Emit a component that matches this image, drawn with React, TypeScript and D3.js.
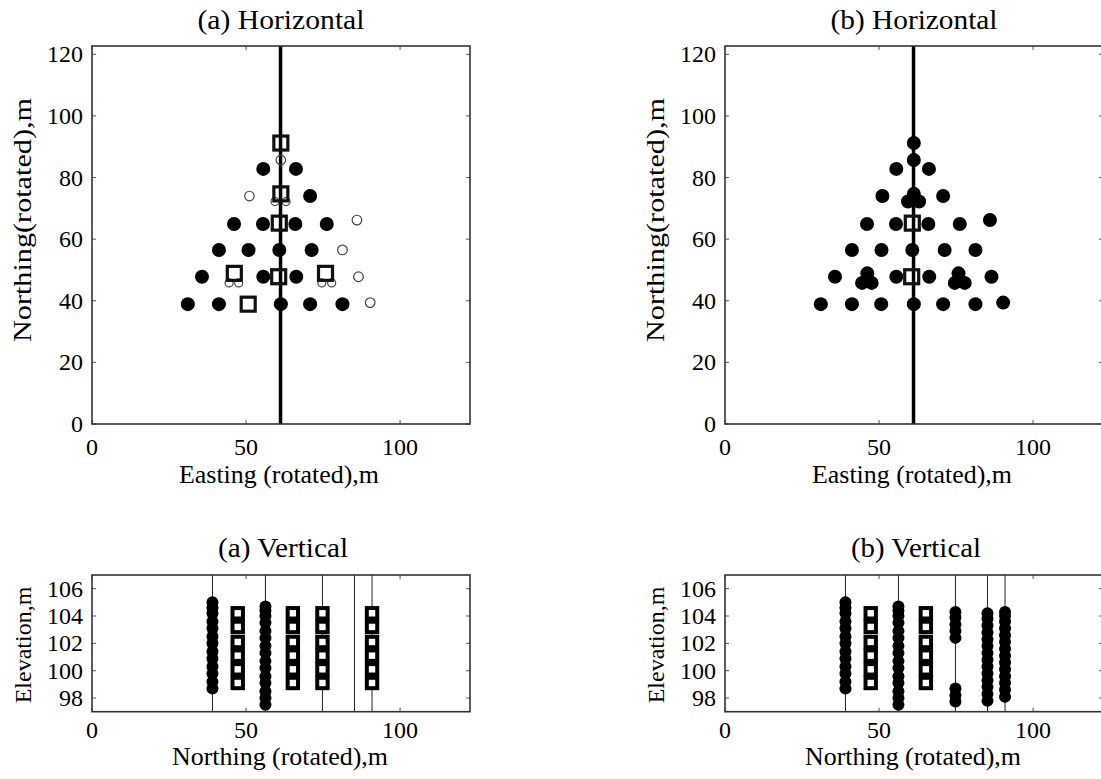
import React from 'react';
import * as d3 from 'd3';

// ---------- data ----------
const xTicks = [0, 50, 100];
const yTicksH = [0, 20, 40, 60, 80, 100, 120];
const yTicksV = [98, 100, 102, 104, 106];
const lineEasting = 61.2;

// (a) horizontal: filled circles [easting, northing]
const filledA: [number, number][] = [
  [55.6, 82.8], [66.2, 82.8], [70.8, 74.0],
  [46.1, 64.9], [55.5, 64.9], [66.0, 64.9], [76.2, 64.9],
  [41.2, 56.5], [50.8, 56.5], [60.8, 56.5], [71.3, 56.5],
  [35.7, 47.8], [55.6, 47.8], [66.3, 47.8],
  [31.1, 38.9], [41.2, 38.9], [61.3, 38.9], [70.8, 38.9], [81.3, 38.9],
];
// (a) horizontal: open circles
const openA: [number, number][] = [
  [61.3, 85.7], [51.1, 74.0], [59.4, 72.2], [63.0, 72.2],
  [86.0, 66.2], [81.3, 56.5], [86.5, 47.8], [90.3, 39.4],
  [44.5, 45.8], [47.6, 45.8], [74.6, 45.8], [77.8, 45.8],
];
const openSmall = [false, false, true, true, false, false, false, false, true, true, true, true];
// (a) horizontal: squares
const squaresA: [number, number][] = [
  [61.3, 91.2], [61.3, 74.7], [60.8, 65.2], [46.2, 48.9],
  [60.6, 47.8], [75.8, 48.9], [50.7, 38.9],
];
// (b) horizontal: squares kept, others became filled
const squaresB: [number, number][] = [[60.8, 65.2], [60.6, 47.8]];
const filledBExtra: [number, number][] = [
  [61.3, 91.2], [61.3, 74.7], [46.2, 48.9], [75.8, 48.9], [50.7, 38.9],
];

// vertical panels: profile lines (northing)
const vLines = [39.1, 56.3, 74.8, 85.2, 90.9];
// circle columns: northing + elevations
const circColsA = [
  { n: 39.1, z: [98.7, 99.2, 99.8, 100.3, 100.9, 101.4, 102.0, 102.5, 103.1, 103.6, 104.2, 104.6, 105.0] },
  { n: 56.3, z: [97.5, 98.0, 98.5, 99.1, 99.6, 100.2, 100.7, 101.3, 101.8, 102.4, 102.9, 103.5, 104.0, 104.4, 104.7] },
];
const circColsB = [
  { n: 39.1, z: [98.7, 99.2, 99.8, 100.3, 100.9, 101.4, 102.0, 102.5, 103.1, 103.6, 104.2, 104.6, 105.0] },
  { n: 56.3, z: [97.5, 98.0, 98.5, 99.1, 99.6, 100.2, 100.7, 101.3, 101.8, 102.4, 102.9, 103.5, 104.0, 104.4, 104.7] },
  { n: 74.8, z: [97.75, 98.2, 98.7, 102.4, 102.9, 103.4, 103.9, 104.3] },
  { n: 85.2, z: [97.8, 98.3, 98.8, 99.3, 99.8, 100.3, 100.8, 101.3, 101.8, 102.3, 102.8, 103.3, 103.8, 104.2] },
  { n: 90.9, z: [98.1, 98.6, 99.1, 99.6, 100.1, 100.6, 101.1, 101.6, 102.1, 102.6, 103.1, 103.6, 104.0, 104.3] },
];
const sqElev = [99.1, 100.1, 101.1, 102.1, 103.2, 104.2];
const sqColsA = [47.3, 65.2, 74.8, 90.9];
const sqColsB = [47.3, 65.2];

// ---------- layout ----------
const FONT = '"Liberation Serif", "Times New Roman", Times, serif';
const PANEL_X = [92, 725];
const W = 378;
const TOP = { y0: 46, y1: 424 };
const BOT = { y0: 575, y1: 711.7 };
const frameColor = '#333';

function Frame({ x, y, w, h, xs, ys, xt, yt }: any) {
  const tl = 4;
  return (
    <g>
      {xt.map((t: number) => (
        <g key={'x' + t}>
          <line x1={xs(t)} x2={xs(t)} y1={y + h} y2={y + h - tl} stroke="#555" strokeWidth={1} />
          <line x1={xs(t)} x2={xs(t)} y1={y} y2={y + tl} stroke="#555" strokeWidth={1} />
        </g>
      ))}
      {yt.map((t: number) => (
        <g key={'y' + t}>
          <line x1={x} x2={x + tl} y1={ys(t)} y2={ys(t)} stroke="#555" strokeWidth={1} />
          <line x1={x + w} x2={x + w - tl} y1={ys(t)} y2={ys(t)} stroke="#555" strokeWidth={1} />
        </g>
      ))}
      <rect x={x} y={y} width={w} height={h} fill="none" stroke={frameColor} strokeWidth={1.6} />
    </g>
  );
}

function HorizPanel({ px, title, filled, open, squares }: any) {
  const xs = d3.scaleLinear().domain([0, 122.7]).range([px, px + W]);
  const ys = d3.scaleLinear().domain([0, 122.7]).range([TOP.y1, TOP.y0]);
  const cx = px + W / 2;
  return (
    <g>
      <text x={cx} y={29} textAnchor="middle" fontSize={27} fontFamily={FONT} textLength={167} lengthAdjust="spacingAndGlyphs">{title}</text>
      <line x1={xs(lineEasting)} x2={xs(lineEasting)} y1={TOP.y0} y2={TOP.y1} stroke="#000" strokeWidth={3.5} />
      {open.map((d: [number, number], i: number) => (
        <circle key={'o' + i} cx={xs(d[0])} cy={ys(d[1])} r={openSmall[i] ? 4 : 4.8} fill="none" stroke="#444" strokeWidth={1.2} />
      ))}
      {filled.map((d: [number, number], i: number) => (
        <circle key={'f' + i} cx={xs(d[0])} cy={ys(d[1])} r={7} fill="#000" />
      ))}
      {squares.map((d: [number, number], i: number) => (
        <rect key={'s' + i} x={xs(d[0]) - 7} y={ys(d[1]) - 7} width={14} height={14} fill="none" stroke="#111" strokeWidth={3.2} />
      ))}
      <Frame x={px} y={TOP.y0} w={W} h={TOP.y1 - TOP.y0} xs={xs} ys={ys} xt={xTicks} yt={yTicksH} />
      {xTicks.map((t) => (
        <text key={'xl' + t} x={xs(t)} y={455} textAnchor="middle" fontSize={24} fontFamily={FONT}>{t}</text>
      ))}
      {yTicksH.map((t) => (
        <text key={'yl' + t} x={px - 9} y={ys(t) + 8} textAnchor="end" fontSize={24} fontFamily={FONT}>{t}</text>
      ))}
      <text x={cx - 2} y={483} textAnchor="middle" fontSize={25} fontFamily={FONT} textLength={200} lengthAdjust="spacingAndGlyphs">Easting (rotated),m</text>
      <text transform={`translate(${px - 61},${220}) rotate(-90)`} textAnchor="middle" fontSize={26} fontFamily={FONT} textLength={244} lengthAdjust="spacingAndGlyphs">Northing(rotated),m</text>
    </g>
  );
}

function VertPanel({ px, title, circCols, sqCols }: any) {
  const xs = d3.scaleLinear().domain([0, 122.7]).range([px, px + W]);
  const ys = d3.scaleLinear().domain([97, 107]).range([BOT.y1, BOT.y0]);
  const cx = px + W / 2;
  return (
    <g>
      <text x={cx + 2} y={557} textAnchor="middle" fontSize={27} fontFamily={FONT} textLength={130} lengthAdjust="spacingAndGlyphs">{title}</text>
      {vLines.map((n) => (
        <line key={'l' + n} x1={xs(n)} x2={xs(n)} y1={BOT.y0} y2={BOT.y1} stroke="#222" strokeWidth={1} />
      ))}
      {circCols.map((c: any) => c.z.map((z: number, i: number) => (
        <circle key={c.n + '-' + i} cx={xs(c.n)} cy={ys(z)} r={6} fill="#000" />
      )))}
      {sqCols.map((n: number) => sqElev.map((z, i) => (
        <rect key={n + 's' + i} x={xs(n) - 5.2} y={ys(z) - 5.2} width={10.4} height={10.4} fill="#fff" stroke="#000" strokeWidth={4} />
      )))}
      <Frame x={px} y={BOT.y0} w={W} h={BOT.y1 - BOT.y0} xs={xs} ys={ys} xt={xTicks} yt={yTicksV} />
      {xTicks.map((t) => (
        <text key={'xl' + t} x={xs(t)} y={738} textAnchor="middle" fontSize={24} fontFamily={FONT}>{t}</text>
      ))}
      {yTicksV.map((t) => (
        <text key={'yl' + t} x={px - 9} y={ys(t) + 8} textAnchor="end" fontSize={24} fontFamily={FONT}>{t}</text>
      ))}
      <text x={cx - 1} y={765} textAnchor="middle" fontSize={25} fontFamily={FONT} textLength={216} lengthAdjust="spacingAndGlyphs">Northing (rotated),m</text>
      <text transform={`translate(${px - 61},${645}) rotate(-90)`} textAnchor="middle" fontSize={24} fontFamily={FONT}>Elevation,m</text>
    </g>
  );
}

export default function App() {
  const filledB = [...filledA, ...openA, ...filledBExtra];
  return (
    <svg width={1101} height={779} style={{ position: 'absolute', left: 0, top: 0, background: '#fff' }}>
      <rect x={0} y={0} width={1101} height={779} fill="#fff" />
      <HorizPanel px={PANEL_X[0]} title="(a) Horizontal" filled={filledA} open={openA} squares={squaresA} />
      <HorizPanel px={PANEL_X[1]} title="(b) Horizontal" filled={filledB} open={[]} squares={squaresB} />
      <VertPanel px={PANEL_X[0]} title="(a) Vertical" circCols={circColsA} sqCols={sqColsA} />
      <VertPanel px={PANEL_X[1]} title="(b) Vertical" circCols={circColsB} sqCols={sqColsB} />
    </svg>
  );
}
